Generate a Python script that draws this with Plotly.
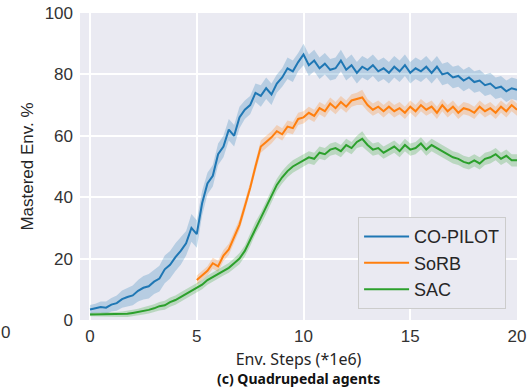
import plotly.graph_objects as go

steps_full = [i * 0.25 for i in range(81)]
steps_sorb = [5 + i * 0.25 for i in range(61)]

copilot = [3.4, 3.8, 4.2, 4.0, 5.0, 5.5, 6.8, 7.5, 8.0, 9.5, 10.5, 11.0, 12.5, 13.5, 16.5, 18.0,
           20.5, 22.5, 25.0, 30.0, 28.0, 38.0, 44.5, 47.0, 54.0, 56.5, 62.0, 60.0, 66.0, 68.5, 70.0, 74.0,
           73.0, 75.5, 73.5, 77.0, 79.0, 82.0, 81.0, 84.0, 86.5, 83.0, 84.5, 82.0, 83.5, 81.5, 82.0, 84.5,
           81.5, 83.0, 80.5, 82.5, 81.5, 83.0, 81.0, 82.0, 80.5, 82.5, 81.0, 83.0, 80.5, 82.0, 81.0, 82.5,
           80.5, 82.5, 80.0, 80.5, 79.0, 79.5, 78.0, 79.0, 77.5, 78.0, 76.5, 77.0, 75.5, 76.0, 74.5, 75.5, 75.0]
copilot_err = [1.5, 1.5, 1.8, 2.0, 2.2, 2.5, 2.8, 3.0, 3.2, 3.5, 3.8, 4.0, 4.0, 4.2, 4.5, 4.5,
               4.5, 4.5, 4.0, 4.5, 4.5, 4.0, 3.5, 3.5, 3.5, 3.5, 3.5, 3.5, 3.5, 3.0, 3.0, 3.0,
               3.5, 3.5, 3.5, 3.0, 3.0, 3.5, 3.5, 3.0, 3.5, 3.5, 3.5, 3.5, 3.5, 3.5, 3.5, 3.5,
               3.5, 3.5, 3.5, 3.5, 3.5, 3.5, 3.5, 3.5, 3.5, 3.5, 3.5, 3.5, 3.5, 3.5, 3.5, 3.5,
               3.5, 3.5, 3.5, 3.5, 3.5, 3.5, 3.5, 3.5, 3.5, 3.5, 3.5, 3.5, 3.5, 3.5, 3.5, 3.5, 3.5]

sorb = [13.0, 14.5, 16.0, 18.5, 17.5, 21.0, 23.0, 27.0, 31.0, 37.0, 43.0, 50.0, 56.5, 58.0, 59.5, 61.5,
        60.5, 63.0, 62.5, 65.5, 66.0, 67.5, 66.5, 69.0, 68.0, 70.5, 69.0, 71.0, 69.5, 71.5, 72.0, 72.5,
        70.0, 68.5, 69.5, 68.0, 69.5, 68.0, 69.0, 67.5, 69.5, 68.0, 70.0, 68.5, 69.5, 67.5, 70.0, 68.0,
        69.5, 67.5, 69.0, 68.5, 67.5, 69.5, 68.0, 69.0, 67.5, 69.5, 68.0, 70.0, 68.5]
sorb_err = [1.5, 1.5, 1.5, 1.8, 1.8, 1.8, 1.8, 1.8, 1.8, 1.8, 1.8, 1.8, 2.0, 2.0, 2.0, 2.0,
            2.0, 2.0, 2.0, 2.0, 2.0, 2.0, 2.0, 2.0, 2.0, 2.0, 2.0, 2.0, 2.0, 2.0, 2.0, 2.5,
            2.0, 2.0, 2.0, 2.0, 2.0, 2.0, 2.0, 2.0, 2.0, 2.0, 2.0, 2.0, 2.0, 2.0, 2.0, 2.0,
            2.0, 2.0, 2.0, 2.0, 2.0, 2.0, 2.0, 2.0, 2.0, 2.0, 2.0, 2.0, 2.0]

sac = [1.8, 1.8, 1.8, 1.8, 1.8, 1.8, 1.9, 2.0, 2.3, 2.6, 3.0, 3.3, 3.8, 4.5, 4.8, 5.8,
       6.5, 7.5, 8.5, 9.5, 10.5, 11.5, 13.0, 14.0, 15.0, 16.0, 17.0, 18.5, 20.0, 22.5, 26.0, 30.0,
       33.0, 36.5, 40.0, 44.0, 46.5, 48.5, 50.0, 51.0, 52.0, 53.0, 52.5, 54.5, 54.0, 55.5, 56.0, 55.0,
       57.0, 56.0, 58.0, 59.0, 57.0, 55.5, 56.0, 54.5, 55.5, 56.5, 55.0, 57.0, 55.5, 56.0, 57.5, 55.5,
       57.0, 56.0, 55.0, 54.0, 53.0, 52.5, 51.5, 51.0, 52.0, 51.0, 52.5, 53.0, 54.0, 52.5, 53.5, 52.0, 52.0]
sac_err = [0.6, 0.6, 0.6, 0.6, 0.7, 0.8, 0.9, 1.0, 1.0, 1.1, 1.2, 1.2, 1.3, 1.4, 1.5, 1.5,
           1.5, 1.5, 1.5, 1.5, 1.5, 1.5, 1.5, 1.5, 1.5, 1.5, 1.6, 1.6, 1.8, 1.8, 2.0, 2.0,
           2.0, 2.0, 2.0, 2.0, 2.0, 2.0, 2.0, 2.0, 2.0, 2.0, 2.0, 2.0, 2.0, 2.0, 2.0, 2.0,
           2.0, 2.0, 2.0, 2.5, 2.0, 2.0, 2.0, 2.0, 2.0, 2.0, 2.0, 2.0, 2.0, 2.0, 2.0, 2.0,
           2.0, 2.0, 2.0, 2.0, 2.0, 2.0, 2.0, 2.0, 2.0, 2.0, 2.0, 2.0, 2.0, 2.0, 2.0, 2.0, 2.0]

series = [
    ("CO-PILOT", steps_full, copilot, copilot_err, "#1f77b4", "rgba(31,119,180,0.25)"),
    ("SoRB", steps_sorb, sorb, sorb_err, "#ff7f0e", "rgba(255,127,14,0.25)"),
    ("SAC", steps_full, sac, sac_err, "#2ca02c", "rgba(44,160,44,0.25)"),
]

fig = go.Figure()
for name, xs, ys, es, col, band in series:
    upper = [y + e for y, e in zip(ys, es)]
    lower = [y - e for y, e in zip(ys, es)]
    fig.add_trace(go.Scatter(x=xs + xs[::-1], y=upper + lower[::-1], fill="toself",
                             fillcolor=band, line=dict(width=0), mode="lines",
                             showlegend=False, hoverinfo="skip"))
    fig.add_trace(go.Scatter(x=xs, y=ys, mode="lines", name=name,
                             line=dict(color=col, width=2)))

tick_font = dict(family="Liberation Sans, Arial, sans-serif", size=17, color="#333333")
fig.update_layout(
    width=530, height=392,
    margin=dict(l=80, r=13, t=13, b=72, autoexpand=False),
    paper_bgcolor="white",
    plot_bgcolor="#EAEAF2",
    showlegend=True,
    legend=dict(x=0.975, y=0.035, xanchor="right", yanchor="bottom",
                bgcolor="#EAEAF2", bordercolor="#CCCCCC", borderwidth=1,
                font=dict(family="Liberation Sans, Arial, sans-serif", size=18, color="#262626"),
                itemwidth=45, tracegroupgap=2),
    xaxis=dict(range=[-0.47, 20], tickvals=[0, 5, 10, 15, 20], showgrid=True, automargin=False,
               gridcolor="white", gridwidth=1.5, zeroline=False, showline=False,
               tickfont=tick_font, ticks="", ticklabelstandoff=4,
               title=dict(text="Env. Steps (*1e6)", standoff=8,
                          font=dict(family="Noto Sans, sans-serif", size=16, color="#262626"))),
    yaxis=dict(range=[0, 100], tickvals=[0, 20, 40, 60, 80, 100], showgrid=True, automargin=False,
               gridcolor="white", gridwidth=1.5, zeroline=False, showline=False,
               tickfont=tick_font, ticks="", ticklabelstandoff=6,
               title=dict(text="Mastered Env. %", standoff=6,
                          font=dict(family="Liberation Sans, Arial, sans-serif", size=17, color="#262626"))),
    annotations=[
        dict(text="<b>(c) Quadrupedal agents</b>", xref="paper", yref="paper",
             x=0.5, y=-0.19, xanchor="center", yanchor="middle", showarrow=False,
             font=dict(family="Noto Sans, sans-serif", size=14, color="#111111")),
        dict(text="0", xref="paper", yref="paper", x=-0.185, y=-0.04, xanchor="left",
             yanchor="middle", showarrow=False,
             font=dict(family="Liberation Sans, Arial, sans-serif", size=17, color="#333333")),
    ],
)

fig.write_html("out.html")
